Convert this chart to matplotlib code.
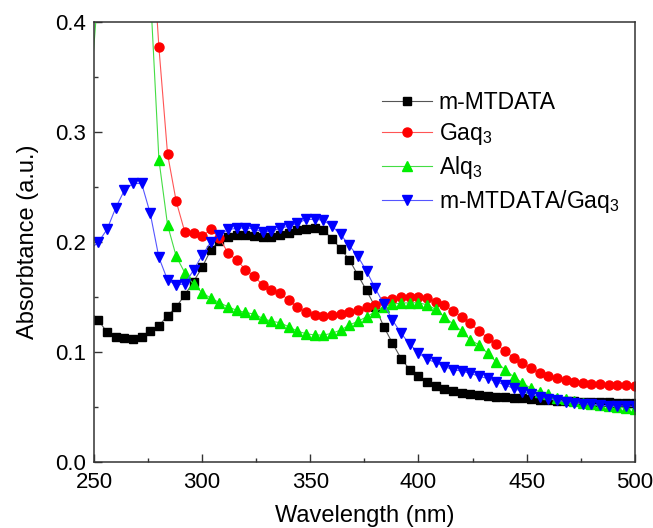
import numpy as np
import matplotlib
matplotlib.use('Agg')
import matplotlib.pyplot as plt
from matplotlib.ticker import MultipleLocator

plt.rcParams['font.family'] = ['Liberation Sans', 'DejaVu Sans']
plt.rcParams['mathtext.fontset'] = 'custom'
plt.rcParams['mathtext.rm'] = 'Liberation Sans'
plt.rcParams['mathtext.it'] = 'Liberation Sans'

#wavelength grid (nm)
wl = np.arange(248, 501, 4)

m_mtdata = [0.137, 0.129, 0.118, 0.114, 0.113, 0.112, 0.114, 0.119, 0.124, 0.133,
            0.141, 0.152, 0.164, 0.177, 0.193, 0.201, 0.205, 0.206, 0.206, 0.2055,
            0.205, 0.205, 0.206, 0.2085, 0.211, 0.212, 0.213, 0.211, 0.203, 0.194,
            0.184, 0.170, 0.156, 0.141, 0.123, 0.108, 0.094, 0.084, 0.078, 0.073,
            0.069, 0.066, 0.0645, 0.063, 0.0615, 0.061, 0.060, 0.0594, 0.0588, 0.0585,
            0.0578, 0.0572, 0.0566, 0.0562, 0.0558, 0.0555, 0.0552, 0.055, 0.0547, 0.0545,
            0.0542, 0.054, 0.0537, 0.0533]

gaq3 = [0.95, 0.9, 0.85, 0.8, 0.75, 0.7, 0.62, 0.5, 0.377, 0.280,
        0.237, 0.209, 0.208, 0.2055, 0.2115, 0.2036, 0.190, 0.1836, 0.175, 0.169,
        0.161, 0.156, 0.154, 0.147, 0.141, 0.136, 0.1336, 0.1327, 0.1336, 0.1345,
        0.1367, 0.138, 0.1406, 0.143, 0.146, 0.148, 0.1497, 0.150, 0.150, 0.149,
        0.1458, 0.1427, 0.1376, 0.132, 0.126, 0.119, 0.113, 0.107, 0.101, 0.0948,
        0.0897, 0.0852, 0.081, 0.078, 0.076, 0.0745, 0.073, 0.072, 0.071, 0.0706,
        0.070, 0.0697, 0.0697, 0.069]

alq3 = [0.33, 0.43, 0.5, 0.55, 0.57, 0.56, 0.52, 0.43, 0.275, 0.2155,
        0.187, 0.172, 0.1615, 0.154, 0.149, 0.145, 0.141, 0.138, 0.136, 0.1345,
        0.1306, 0.128, 0.1267, 0.123, 0.119, 0.1167, 0.1155, 0.1155, 0.117, 0.120,
        0.1245, 0.128, 0.132, 0.1367, 0.141, 0.1436, 0.1445, 0.1448, 0.1448, 0.143,
        0.1388, 0.132, 0.1255, 0.119, 0.111, 0.1065, 0.0988, 0.091, 0.084, 0.0776,
        0.072, 0.067, 0.064, 0.0615, 0.0585, 0.057, 0.0556, 0.054, 0.0524, 0.0515,
        0.051, 0.050, 0.049, 0.048]

blend = [0.193, 0.200, 0.2115, 0.231, 0.247, 0.2533, 0.2533, 0.226, 0.186, 0.1655,
         0.161, 0.162, 0.1745, 0.188, 0.200, 0.206, 0.2115, 0.2124, 0.213, 0.212,
         0.209, 0.210, 0.2124, 0.2145, 0.217, 0.2206, 0.2206, 0.220, 0.2145, 0.207,
         0.197, 0.187, 0.1736, 0.158, 0.1436, 0.129, 0.117, 0.107, 0.0994, 0.0933,
         0.0906, 0.0867, 0.084, 0.0827, 0.0806, 0.078, 0.076, 0.073, 0.070, 0.067,
         0.064, 0.0615, 0.0594, 0.0576, 0.056, 0.055, 0.054, 0.053, 0.0524, 0.0515,
         0.051, 0.051, 0.051, 0.0506]

fig = plt.figure(figsize=(6.53, 5.28), dpi=100)
ax = fig.add_axes([0.144, 0.125, 0.828, 0.833])

ms = 6
mk = slice(1, None)   # first point only sits left of the axis
ax.plot(wl, m_mtdata, color='#555555', lw=0.8, marker='s', ms=ms, markevery=mk,
        mfc='black', mec='black', label='m-MTDATA')
ax.plot(wl, gaq3, color='#ff5555', lw=0.8, marker='o', ms=ms + 0.5, markevery=mk,
        mfc='red', mec='red', label='Gaq$_3$')
ax.plot(wl, alq3, color='#44dd44', lw=0.8, marker='^', ms=ms + 0.5, markevery=mk,
        mfc='#00ee00', mec='#00ee00', label='Alq$_3$')
ax.plot(wl, blend, color='#5555ff', lw=0.8, marker='v', ms=ms + 0.5, markevery=mk,
        mfc='blue', mec='blue', label='m-MTDATA/Gaq$_3$')

ax.set_xlim(250, 500)
ax.set_ylim(0.0, 0.4)
ax.xaxis.set_major_locator(MultipleLocator(50))
ax.xaxis.set_minor_locator(MultipleLocator(25))
ax.yaxis.set_major_locator(MultipleLocator(0.1))
ax.yaxis.set_minor_locator(MultipleLocator(0.05))
ax.tick_params(which='both', direction='in', top=False, right=False,
               labelsize=16, width=1, color='#333333')
ax.tick_params(which='major', length=6)
ax.tick_params(which='minor', length=3)
ax.tick_params(axis='x', pad=7)
ax.tick_params(axis='y', pad=6)
for s in ax.spines.values():
    s.set_linewidth(1.1)
    s.set_color('#333333')

ax.set_xlabel('Wavelength (nm)', fontsize=17, labelpad=9)
ax.set_ylabel('Absorbtance (a.u.)', fontsize=17, labelpad=11)

ax.legend(loc='upper right', bbox_to_anchor=(1.01, 0.89), frameon=False,
          fontsize=16.5, handlelength=2.2, labelspacing=0.3, handletextpad=0.3)

plt.savefig('out.png', dpi=100)
